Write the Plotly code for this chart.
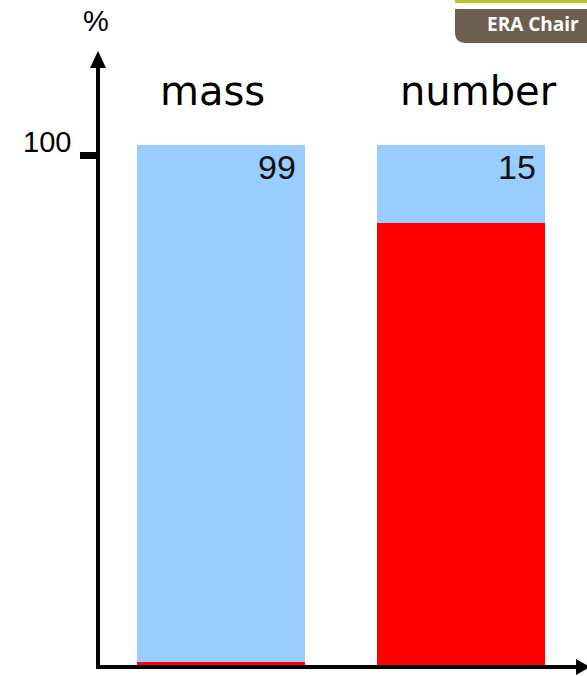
import plotly.graph_objects as go

# Share of the total, in percent
categories = ["mass", "number"]
red_part = [1, 85]
blue_part = [99, 15]
value_labels = ["99", "15"]

W, H = 587, 676


def px(x):
    return x / W


def py(y):
    return 1 - y / H


fig = go.Figure()
fig.add_trace(go.Bar(x=categories, y=red_part, marker=dict(color="#ff0000", line=dict(width=0)),
                     width=0.7, hoverinfo="skip"))
fig.add_trace(go.Bar(x=categories, y=blue_part, marker=dict(color="#99ccff", line=dict(width=0)),
                     width=0.7, hoverinfo="skip"))

# value labels in the upper right of each bar, category names above
name_shift = [-9, 17]
for cat, lab, dx in zip(categories, value_labels, name_shift):
    fig.add_annotation(x=cat, y=100, text=lab, xref="x", yref="y", showarrow=False,
                       xanchor="right", yanchor="top", xshift=77, yshift=-1,
                       font=dict(family="Liberation Sans, Arial", size=34, color="#111"))
    fig.add_annotation(x=cat, y=100, text=cat, xref="x", yref="y", showarrow=False,
                       xanchor="center", yanchor="bottom", yshift=29, xshift=dx,
                       font=dict(family="DejaVu Sans", size=40, color="#000"))

shapes = []
# axes drawn as thick lines with arrow heads
shapes.append(dict(type="line", xref="paper", yref="paper", x0=px(98), x1=px(98),
                   y0=py(669), y1=py(62), line=dict(color="black", width=4)))
shapes.append(dict(type="line", xref="paper", yref="paper", x0=px(96), x1=px(580),
                   y0=py(667), y1=py(667), line=dict(color="black", width=4)))
shapes.append(dict(type="path", xref="paper", yref="paper",
                   path=f"M {px(90)} {py(68)} L {px(98)} {py(51)} L {px(106)} {py(68)} Z",
                   fillcolor="black", line=dict(width=0)))
shapes.append(dict(type="path", xref="paper", yref="paper",
                   path=f"M {px(576)} {py(659)} L {px(590)} {py(667)} L {px(576)} {py(675)} Z",
                   fillcolor="black", line=dict(width=0)))
# tick at 100
shapes.append(dict(type="rect", xref="paper", yref="paper", x0=px(80), x1=px(97),
                   y0=py(159), y1=py(152), fillcolor="black", line=dict(width=0)))
# corner badge
shapes.append(dict(type="rect", xref="paper", yref="paper", x0=px(455), x1=1.0,
                   y0=py(3), y1=1.0, fillcolor="#b4c81e", line=dict(width=0)))
shapes.append(dict(type="path", xref="paper", yref="paper",
                   path=(f"M {px(455)} {py(9)} L {px(600)} {py(9)} L {px(600)} {py(43)} "
                         f"L {px(466)} {py(43)} Q {px(455)} {py(43)} {px(455)} {py(32)} Z"),
                   fillcolor="#6d5f50", line=dict(width=0)))
fig.update_layout(shapes=shapes)

fig.add_annotation(x=px(533), y=py(24), xref="paper", yref="paper", text="<b>ERA Chair</b>",
                   showarrow=False, xanchor="center", yanchor="middle",
                   font=dict(family="Open Sans, Liberation Sans", size=19, color="white"))
fig.add_annotation(x=px(96), y=py(21), xref="paper", yref="paper", text="%",
                   showarrow=False, xanchor="center", yanchor="middle",
                   font=dict(family="Liberation Sans, Arial", size=29, color="black"))
fig.add_annotation(x=px(73), y=py(142), xref="paper", yref="paper", text="100",
                   showarrow=False, xanchor="right", yanchor="middle",
                   font=dict(family="Liberation Sans, Arial", size=29, color="black"))

# pixel-aligned ranges: 0% at y=667, 100% at y=145; categories 240 px apart
fig.update_layout(
    width=W, height=H, barmode="stack", showlegend=False,
    margin=dict(l=0, r=0, t=0, b=0),
    paper_bgcolor="white", plot_bgcolor="white",
    xaxis=dict(range=[-221 / 240, (W - 221) / 240], visible=False, fixedrange=True),
    yaxis=dict(range=[-9 / 5.22, 667 / 5.22], visible=False, fixedrange=True),
)

fig.write_html("out.html")
